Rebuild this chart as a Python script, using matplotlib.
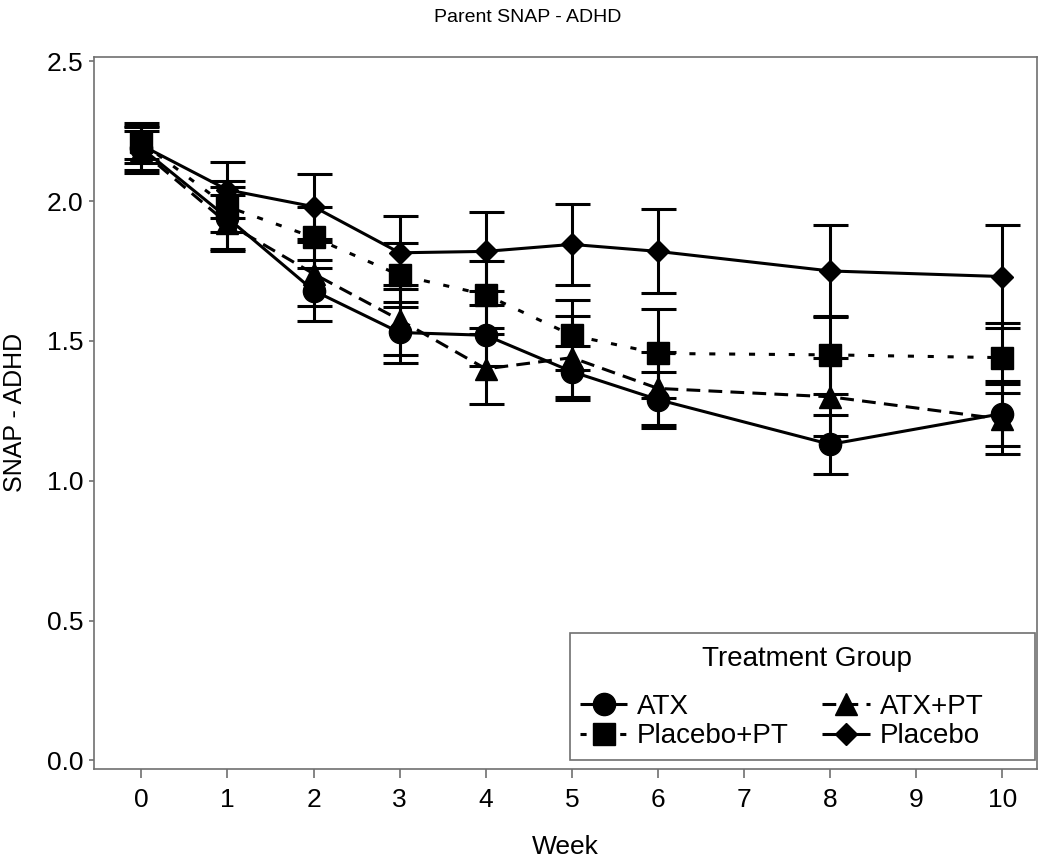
import matplotlib
matplotlib.use("Agg")
import matplotlib.pyplot as plt
from matplotlib.lines import Line2D
from matplotlib.patches import Rectangle

plt.rcParams["font.family"] = ["Liberation Sans", "DejaVu Sans"]

weeks = [0, 1, 2, 3, 4, 5, 6, 8, 10]
groups = ["ATX", "Placebo+PT", "ATX+PT", "Placebo"]
atx = [2.19, 1.94, 1.68, 1.53, 1.52, 1.39, 1.29, 1.13, 1.24]
atx_err = [0.09, 0.11, 0.11, 0.11, 0.11, 0.09, 0.10, 0.105, 0.115]
atx_pt = [2.18, 1.92, 1.74, 1.575, 1.40, 1.44, 1.33, 1.30, 1.22]
atx_pt_err = [0.07, 0.10, 0.115, 0.125, 0.125, 0.15, 0.13, 0.14, 0.125]
plac_pt = [2.21, 1.98, 1.87, 1.735, 1.665, 1.52, 1.455, 1.45, 1.44]
plac_pt_err = [0.06, 0.09, 0.11, 0.115, 0.12, 0.125, 0.16, 0.14, 0.125]
plac = [2.20, 2.04, 1.98, 1.815, 1.82, 1.845, 1.82, 1.75, 1.73]
plac_err = [0.065, 0.10, 0.115, 0.13, 0.14, 0.145, 0.15, 0.165, 0.185]

series = {
    "ATX": (atx, atx_err, "o", (0, ()), 16),
    "Placebo+PT": (plac_pt, plac_pt_err, "s", (0, (2, 4.5)), 16),
    "ATX+PT": (atx_pt, atx_pt_err, "^", (0, (4.5, 2.7)), 16),
    "Placebo": (plac, plac_err, "D", (0, ()), 11.7),
}

fig = plt.figure(figsize=(10.5, 8.6), dpi=100)
ax = fig.add_axes([0.0895, 0.1058, 0.898, 0.8282])
lw = 2.2
grey = "#707070"
handles = []
for name in groups:
    y, e, mk, ls, ms = series[name]
    ax.errorbar(weeks, y, yerr=e, fmt="none", ecolor="black", elinewidth=lw,
                capsize=12.6, capthick=lw, zorder=2)
    ax.plot(weeks, y, color="black", linestyle=ls, linewidth=lw, marker=mk,
            markersize=ms, markerfacecolor="black", markeredgecolor="black", zorder=3)
    handles.append(Line2D([], [], color="black", linestyle=ls, linewidth=lw, marker=mk,
                          markersize=ms, label=name))

ax.set_xlim(-0.55, 10.4)
ax.set_ylim(-0.031, 2.516)
ax.set_xticks(range(0, 11))
ax.set_yticks([0.0, 0.5, 1.0, 1.5, 2.0, 2.5])
ax.set_yticklabels(["0.0", "0.5", "1.0", "1.5", "2.0", "2.5"])
for s in ax.spines.values():
    s.set_color(grey)
    s.set_linewidth(1.2)
ax.tick_params(axis="both", colors=grey, labelcolor="black", labelsize=19, width=1.2)
ax.tick_params(axis="x", length=6.5, pad=7)
ax.tick_params(axis="y", length=3.6, pad=4)
ax.set_xlabel("Week", fontsize=19)
ax.xaxis.set_label_coords(0.5, -0.093)
ax.set_ylabel("SNAP - ADHD", fontsize=18)
ax.yaxis.set_label_coords(-0.071, 0.5)
fig.suptitle("Parent SNAP - ADHD", fontsize=14, x=0.503, y=0.99)

# legend: frame and title drawn separately so the box spans the reference width
ax.add_patch(Rectangle((0.505, 0.0126), 0.493, 0.178, transform=ax.transAxes,
                       fill=False, edgecolor=grey, linewidth=1.2, zorder=4))
ax.text(0.756, 0.155, "Treatment Group", transform=ax.transAxes, fontsize=20,
        ha="center", va="center", zorder=5)
ax.legend(handles=handles, ncol=2, fontsize=20, loc="lower left",
          bbox_to_anchor=(0.5154, 0.0275), frameon=False, handlelength=1.7,
          handletextpad=0.36, columnspacing=1.2, labelspacing=0.12,
          borderpad=0, borderaxespad=0)

fig.savefig("out.png", dpi=100)
